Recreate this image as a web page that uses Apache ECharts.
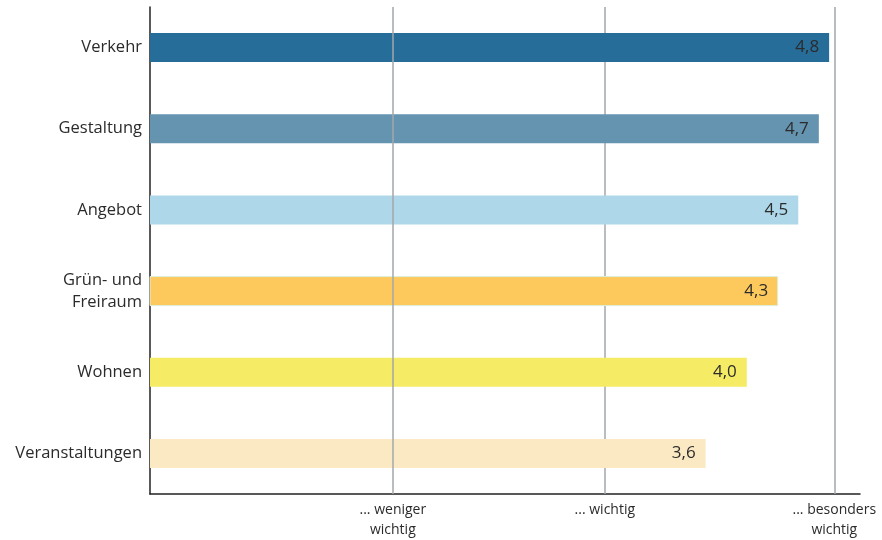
<!DOCTYPE html>
<html>
<head>
<meta charset="utf-8">
<script src="https://cdn.jsdelivr.net/npm/echarts@6/dist/echarts.min.js"></script>
<style>
  html, body { margin: 0; padding: 0; background: #fff; }
  #chart { width: 882px; height: 540px; }
</style>
</head>
<body>
<div id="chart"></div>
<script>
// Kategorien von oben nach unten
var categories = ['Verkehr', 'Gestaltung', 'Angebot', 'Grün- und\nFreiraum', 'Wohnen', 'Veranstaltungen'];
var values = [4.8, 4.7, 4.5, 4.3, 4.0, 3.6];
var barColors = ['#266d99', '#6594b0', '#aed8e9', '#fec95c', '#f5eb64', '#fbe9c4'];

// Skalen-Markierungen (Linien + Beschriftung unten)
var scaleMarks = [0.56, 2.62, 4.85];
var scaleLabels = ['... weniger\nwichtig', '... wichtig', '... besonders\nwichtig'];

var xMin = -1.8, xMax = 5.1;
var textColor = '#2b2b2b';
var font = '"Open Sans", "Noto Sans", sans-serif';
var gridLineStyle = { color: '#a3a7ab', width: 1.5, type: 'solid' };

var chart = echarts.init(document.getElementById('chart'));

// balken beginnen an der linken achse, nicht bei 0
function renderBar(params, api) {
	var idx = params.dataIndex;
	var v = api.value(0);
	var start = api.coord([xMin, api.value(1)]);
	var end = api.coord([v, api.value(1)]);
	var h = 29;
	return {
		type: 'rect',
		shape: { x: start[0], y: start[1] - h / 2, width: end[0] - start[0], height: h },
		style: {
			fill: barColors[idx],
			stroke: idx === 3 ? '#dcefd9' : null,
			lineWidth: idx === 3 ? 1 : 0
		},
		textContent: {
			style: {
				text: v.toFixed(1).replace('.', ','),
				fill: textColor,
				fontFamily: font,
				fontSize: 17
			}
		},
		textConfig: { position: 'insideRight', distance: 10 }
	};
}

// erste linie liegt ueber den balken, die anderen dahinter
function markLineSeries(marks, z) {
	return {
		type: 'line',
		data: [],
		silent: true,
		markLine: {
			silent: true,
			symbol: 'none',
			z: z,
			label: { show: false },
			lineStyle: gridLineStyle,
			data: marks.map(function (m) { return { xAxis: m }; })
		},
		z: z
	};
}

var option = {
	animation: false,
	backgroundColor: '#fff',
	grid: {
		left: 150,
		right: 22,
		top: 7,
		bottom: 43,
		containLabel: false
	},
	xAxis: {
		type: 'value',
		min: xMin,
		max: xMax,
		axisLine: { show: true, onZero: false, lineStyle: { color: '#222', width: 1.5 } },
		axisTick: { show: false },
		splitLine: { show: false },
		axisLabel: {
			customValues: scaleMarks,
			formatter: function (v) {
				var i = scaleMarks.indexOf(v);
				return i >= 0 ? scaleLabels[i] : '';
			},
			color: textColor,
			fontFamily: font,
			fontSize: 14,
			lineHeight: 20,
			margin: 6
		}
	},
	yAxis: {
		type: 'category',
		inverse: true,
		data: categories,
		axisLine: { show: true, onZero: false, lineStyle: { color: '#222', width: 1.5 } },
		axisTick: { show: false },
		axisLabel: {
			color: textColor,
			fontFamily: font,
			fontSize: 16.5,
			lineHeight: 22,
			margin: 8,
			align: 'right'
		}
	},
	series: [
		markLineSeries(scaleMarks.slice(1), 1),
		{
			type: 'custom',
			renderItem: renderBar,
			encode: { x: 0, y: 1 },
			data: values.map(function (v, i) { return [v, i]; }),
			z: 3
		},
		markLineSeries(scaleMarks.slice(0, 1), 5)
	]
};

chart.setOption(option);
</script>
</body>
</html>
